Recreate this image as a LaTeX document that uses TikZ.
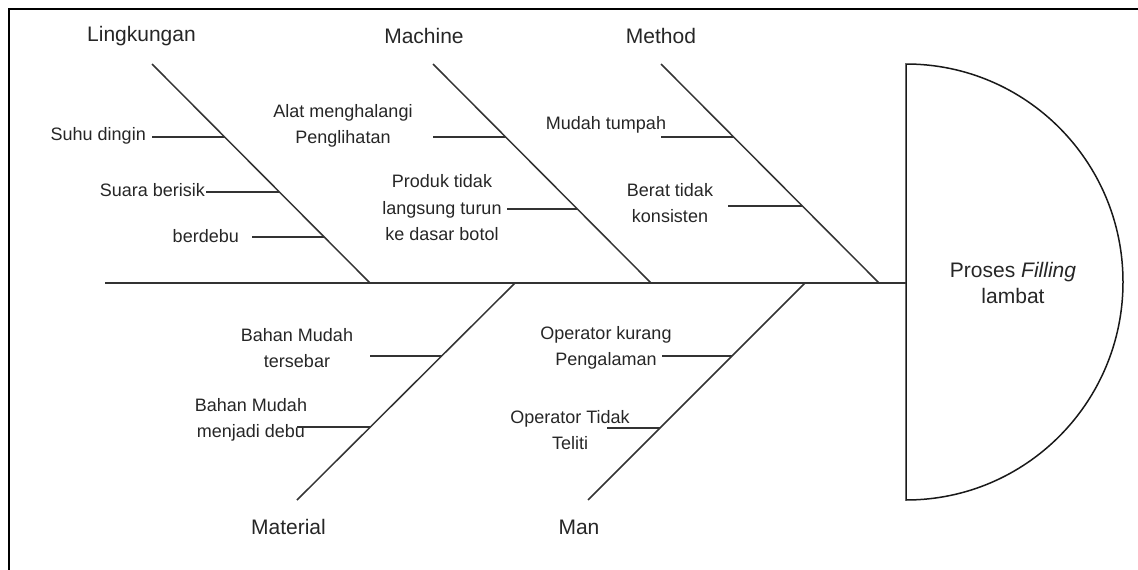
\documentclass[tikz,border=0pt]{standalone}
\usepackage{fontspec}
\setmainfont{Liberation Sans}
\begin{document}
\begin{tikzpicture}[x=1pt,y=-1pt,
  ink/.style={draw=black!80, line width=1.5pt},
  bone/.style={ink},
  twig/.style={ink, line width=1.3pt},
  cat/.style={inner sep=0pt, font=\fontsize{21}{25}\selectfont, text=black!85},
  cause/.style={inner sep=0pt, align=center, font=\fontsize{18}{26.5}\selectfont, text=black!85},
  effecttext/.style={inner sep=0pt, align=center, font=\fontsize{21}{26}\selectfont, text=black!85},
]
\useasboundingbox (0,0) rectangle (1138,570);

% frame edges along the top and left
\draw[line width=2.5pt] (9,570) -- (9,9) -- (1138,9);

% spine and effect head
\coordinate (tail) at (105,283);
\coordinate (head) at (906,283);
\draw[line width=1.5pt, draw=black!90]
  (906,64) .. controls (1025.9,64) and (1123,161.6) .. (1123,282)
  .. controls (1123,402.4) and (1025.9,500) .. (906,500) -- cycle;
\node[effecttext] (effect) at (1013,283) {Proses \textit{Filling}\\lambat};
\draw[bone] (tail) -- (head);

% main bones
\coordinate (Lt) at (152,64);  \coordinate (Lb) at (370,283);
\coordinate (Mt) at (433,64);  \coordinate (Mb) at (651,283);
\coordinate (Et) at (661,64);  \coordinate (Eb) at (879,283);
\coordinate (At) at (515,283); \coordinate (Ab) at (297,500);
\coordinate (Nt) at (805,283); \coordinate (Nb) at (588,500);
\draw[bone] (Lt) -- (Lb) coordinate[pos=0.333] (L1) coordinate[pos=0.584] (L2) coordinate[pos=0.79] (L3);
\draw[bone] (Mt) -- (Mb) coordinate[pos=0.333] (M1) coordinate[pos=0.662] (M2);
\draw[bone] (Et) -- (Eb) coordinate[pos=0.333] (E1) coordinate[pos=0.648] (E2);
\draw[bone] (At) -- (Ab) coordinate[pos=0.336] (A1) coordinate[pos=0.664] (A2);
\draw[bone] (Nt) -- (Nb) coordinate[pos=0.336] (N1) coordinate[pos=0.668] (N2);

% category labels
\node[cat] (lingkungan) at (141.5,36) {Lingkungan};
\node[cat] (machine) at (424,36) {Machine};
\node[cat] (method) at (661,36) {Method};
\node[cat] (material) at (288.5,527) {Material};
\node[cat] (man) at (579,527) {Man};

% twig start points
\coordinate (L1s) at (152,137);
\coordinate (L2s) at (206,192);
\coordinate (L3s) at (252,237);
\coordinate (M1s) at (433,137);
\coordinate (M2s) at (507,209);
\coordinate (E1s) at (661,137);
\coordinate (E2s) at (728,206);
\coordinate (A1s) at (370,356);
\coordinate (A2s) at (297,427);
\coordinate (N1s) at (662,356);
\coordinate (N2s) at (607,428);

\foreach \t in {L1,L2,L3,M1,M2,E1,E2,A1,A2,N1,N2}
  \draw[twig] (\t) -- (\t s |- \t);

% causes
\node[cause, anchor=east] (suhu) at (146,136) {Suhu dingin};
\node[cause, anchor=east] (suara) at (205,190) {Suara berisik};
\node[cause, anchor=east] (debu) at (239,236) {berdebu};
\node[cause] (alat) at (343,126) {Alat menghalangi\\Penglihatan};
\node[cause] (produk) at (442,208) {Produk tidak\\langsung turun\\ke dasar botol};
\node[cause] (tumpah) at (606,125) {Mudah tumpah};
\node[cause] (berat) at (670,203) {Berat tidak\\konsisten};
\node[cause] (sebar) at (297,348) {Bahan Mudah\\tersebar};
\node[cause] (jadidebu) at (251,420) {Bahan Mudah\\menjadi debu};
\node[cause] (kurang) at (606,348) {Operator kurang\\Pengalaman};
\node[cause] (teliti) at (570,430) {Operator Tidak\\Teliti};
\end{tikzpicture}
\end{document}
